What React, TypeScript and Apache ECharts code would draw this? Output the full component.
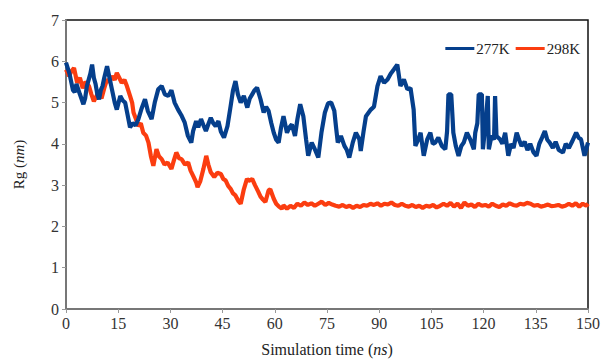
import React, { useEffect, useRef } from "react";
import * as echarts from "echarts";

const xTicks = [0, 15, 30, 45, 60, 75, 90, 105, 120, 135, 150];
const yTicks = [0, 1, 2, 3, 4, 5, 6, 7];
const seriesNames = ["277K", "298K"];

const t277 = [0,1,2,2.5,3,4,5,5.5,6,7,7.5,8,8.5,9,9.5,10,10.5,11,11.8,12.5,13.2,14,14.6,15.6,16.3,17,17.7,18.4,19.2,20,20.8,21.7,22.7,23.5,24.6,25.5,26.5,27.5,28.4,29.4,30.3,31.2,32.2,33.1,34.1,35,36,36.5,37.4,38,38.8,39.5,40.2,41,41.6,42.3,43,43.8,44.5,45.4,46.4,47.3,48,48.7,49.4,50.2,51.1,52.1,52.8,53.5,54.2,54.9,55.9,56.8,57.5,58.2,59,59.7,60.4,61.1,61.8,62.5,63.5,64.2,64.9,65.8,66.5,67.3,68.2,69,69.6,70.6,71.5,72.5,73.4,74.4,75.3,76.2,77.1,77.6,78.1,79,80,80.7,81.4,82.4,83.3,84.3,84.7,85.5,86.2,87.6,88.5,89.5,90.4,91.4,92.4,93.3,94.2,95.2,96.1,97.1,98.1,99,99.9,100.4,101.2,101.9,102.8,103.8,104.7,105.4,106.1,107,108,109,109.5,109.9,110.7,111.1,111.3,112,112.8,113.6,114.3,115.2,116.2,117.2,117.6,118.2,118.6,119.5,119.8,120.5,121.2,121.5,122.3,123,123.3,123.7,124.7,125.4,126.2,127.1,127.9,128.6,129.5,130.2,130.9,131.8,132.6,133.4,134.3,135.2,136,136.8,137.6,138.3,139,139.9,140.7,141.6,142.8,143.6,144.5,145.4,146.6,147.3,148,149,150];
const rg277 = [5.97,5.7,5.3,5.25,5.45,5.2,4.96,5.1,5.4,5.7,5.92,5.6,5.45,5.2,5.08,5.3,5.4,5.6,5.88,5.6,5.32,5.0,4.83,5.16,5.05,5.0,4.7,4.4,4.5,4.45,4.6,4.85,5.08,4.8,4.6,5.0,5.32,5.4,5.2,5.16,5.3,5.0,4.83,4.7,4.52,4.2,4.03,4.3,4.55,4.4,4.6,4.45,4.31,4.5,4.63,4.5,4.43,4.55,4.3,4.15,4.43,4.91,5.3,5.52,5.2,5.0,5.16,4.88,5.1,5.2,5.3,5.36,5.08,4.76,4.9,4.8,4.5,4.27,4.1,4.03,4.4,4.67,4.27,4.4,4.47,4.19,4.6,4.96,4.67,4.1,3.71,4.03,3.87,3.67,4.27,4.76,4.98,5.0,4.8,4.4,4.03,4.19,3.95,3.85,3.67,4.03,4.27,4.11,3.83,4.3,4.67,4.83,4.9,5.4,5.64,5.48,5.56,5.7,5.8,5.92,5.4,5.56,5.32,5.35,4.83,3.95,4.1,4.27,3.71,4.11,4.27,4.0,4.03,4.15,3.95,3.87,4.3,5.2,5.2,4.6,4.27,3.95,3.71,3.95,4.03,4.27,4.1,3.87,4.27,4.5,5.2,5.2,3.87,4.43,5.16,3.87,4.2,4.1,5.16,4.19,4.11,4.0,4.27,3.71,4.0,3.9,4.27,4.1,3.95,4.05,3.85,4.0,3.8,3.71,4.0,4.15,4.31,4.1,4.03,3.9,4.05,3.85,3.79,4.0,3.9,4.05,4.27,4.15,4.11,3.71,4.03];

const t298 = [0,0.9,1.5,2.3,3.2,4,4.8,5.6,6.6,7.3,8,8.7,9.4,10.2,11,11.8,12.5,13.2,14,14.6,15.3,16,16.8,17.5,18.4,19,19.4,20.1,20.8,21.5,22.2,23,23.7,24.4,25.1,26,26.7,27.5,28.3,29.2,30.3,31,31.7,32.5,33.2,34.2,35.1,35.8,36.5,37.4,37.8,38.6,39.5,40.3,40.9,41.6,42.6,43.5,44.5,45.2,45.9,46.6,47.3,48,48.7,49.5,50.2,51.1,52,52.5,53.5,54.3,55.2,55.9,56.6,57.3,58.2,58.7,59.7,60.4,61.2,62,62.5,63.5,64.5,65.5,66.5,67.5,68.5,69.5,70.5,71.5,72.5,73.5,74.5,75.5,76.5,77.5,78.5,79.5,80.5,81.5,82.5,83.5,84.5,85.5,86.5,87.5,88.5,89.5,90.5,91.5,92.5,93.5,94.5,95.5,96.5,97.5,98.5,99.5,100.5,101.5,102.5,103.5,104.5,105.5,106.5,107.5,108.5,109.5,110.5,111.5,112.5,113.5,114.5,115.5,116.5,117.5,118.5,119.5,120.5,121.5,122.5,123.5,124.5,125.5,126.5,127.5,128.5,129.5,130.5,131.5,132.5,133.5,134.5,135.5,136.5,137.5,138.5,139.5,140.5,141.5,142.5,143.5,144.5,145.5,146.5,147.5,148.5,149.5,150];
const rg298 = [5.8,5.64,5.75,5.84,5.48,5.6,5.35,5.5,5.4,5.2,5.03,5.15,5.24,5.1,5.35,5.56,5.5,5.64,5.55,5.72,5.6,5.48,5.55,5.4,5.16,5.0,4.76,4.6,4.43,4.5,4.27,4.2,4.03,3.7,3.47,3.87,3.7,3.63,3.5,3.55,3.39,3.6,3.79,3.65,3.63,3.5,3.55,3.35,3.23,3.07,2.95,3.1,3.4,3.71,3.5,3.31,3.2,3.3,3.27,3.15,3.11,2.98,2.91,2.8,2.75,2.62,2.55,2.9,3.15,3.1,3.15,3.0,2.85,2.72,2.65,2.59,2.87,2.9,2.67,2.55,2.48,2.43,2.51,2.43,2.5,2.45,2.55,2.5,2.58,2.52,2.56,2.5,2.55,2.6,2.52,2.57,2.53,2.5,2.48,2.52,2.47,2.5,2.45,2.5,2.47,2.52,2.5,2.55,2.52,2.56,2.5,2.55,2.53,2.58,2.52,2.5,2.55,2.5,2.48,2.52,2.47,2.5,2.45,2.5,2.48,2.52,2.46,2.5,2.55,2.5,2.57,2.48,2.55,2.45,2.58,2.5,2.53,2.47,2.55,2.5,2.52,2.48,2.55,2.5,2.47,2.53,2.5,2.56,2.52,2.5,2.55,2.53,2.57,2.55,2.5,2.52,2.48,2.5,2.53,2.49,2.5,2.52,2.48,2.5,2.55,2.5,2.56,2.48,2.55,2.5,2.55];

const colors = ["#053f8c", "#fb3d10"];
const serif = "Times New Roman";

export default function App() {
  const ref = useRef<HTMLDivElement>(null);
  useEffect(() => {
    document.body.style.margin = "0";
    const chart = echarts.init(ref.current!, null, { renderer: "svg" });
    const d277 = t277.map((t, i) => [t, rg277[i]]);
    const d298 = t298.map((t, i) => [t, rg298[i]]);
    const italic = { fontStyle: "italic", fontFamily: serif, color: "#222" };
    chart.setOption({
      animation: false,
      backgroundColor: "#ffffff",
      textStyle: { fontFamily: serif },
      grid: {
        left: 66, right: 11, top: 20, bottom: 51,
        show: true, borderColor: "#111", borderWidth: 1.5, backgroundColor: "transparent",
      },
      legend: {
        right: 18, top: 36,
        itemWidth: 29, itemHeight: 3, itemGap: 6,
        icon: "rect",
        textStyle: { fontFamily: serif, fontSize: 15, color: "#222", padding: [0, 0, 0, -3] },
        data: seriesNames,
      },
      xAxis: {
        type: "value", min: 0, max: 150, interval: 15,
        name: "Simulation time ({i|ns})",
        nameLocation: "middle", nameGap: 32,
        nameTextStyle: {
          fontFamily: serif, fontSize: 16, color: "#222",
          rich: { i: { ...italic, fontSize: 16 } },
        },
        axisLine: { show: true, lineStyle: { color: "#777", width: 2 } },
        axisTick: { show: true, length: 4, lineStyle: { color: "#999" } },
        axisLabel: { fontFamily: serif, fontSize: 16, color: "#333", margin: 6 },
        splitLine: { show: false },
      },
      yAxis: {
        type: "value", min: 0, max: 7, interval: 1,
        name: "Rg ({i|nm})",
        nameLocation: "middle", nameGap: 40, nameRotate: 90,
        nameTextStyle: {
          fontFamily: serif, fontSize: 15, color: "#222",
          rich: { i: { ...italic, fontSize: 15 } },
        },
        axisLine: { show: true, lineStyle: { color: "#777", width: 2 } },
        axisTick: { show: true, length: 4, lineStyle: { color: "#999" } },
        axisLabel: { fontFamily: serif, fontSize: 16, color: "#333", margin: 7 },
        splitLine: { show: false },
      },
      series: [
        {
          name: seriesNames[1], type: "line", data: d298, showSymbol: false,
          lineStyle: { color: colors[1], width: 4.2 }, itemStyle: { color: colors[1] }, z: 2,
        },
        {
          name: seriesNames[0], type: "line", data: d277, showSymbol: false,
          lineStyle: { color: colors[0], width: 4.2 }, itemStyle: { color: colors[0] }, z: 3,
        },
      ],
    });
    return () => chart.dispose();
  }, []);
  return <div ref={ref} style={{ width: 603, height: 362 }} />;
}
